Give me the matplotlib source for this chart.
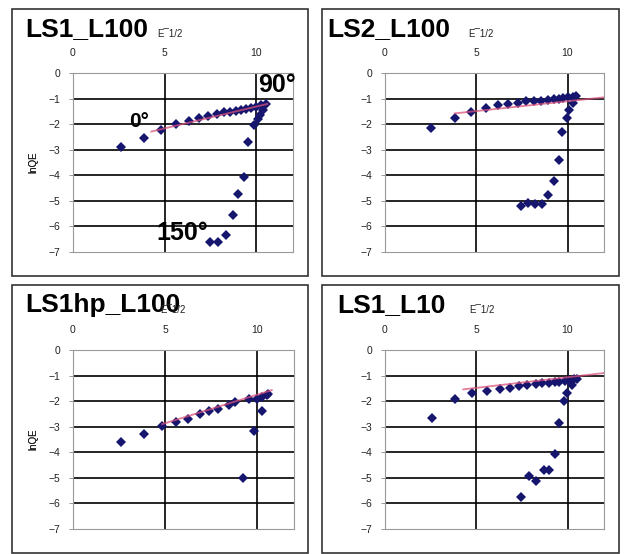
import matplotlib
matplotlib.use("Agg")
import matplotlib.pyplot as plt
from matplotlib.patches import Rectangle

plt.rcParams['font.family'] = ['Liberation Sans', 'DejaVu Sans']

W, H = 624, 554

titles = ["LS1_L100", "LS2_L100", "LS1hp_L100", "LS1_L10"]
xunit = "E\u00af1/2"
ylab = "lnQE"
xticks = [0, 5, 10]
yticks = [0, -1, -2, -3, -4, -5, -6, -7]

# LS1_L100
x1 = [2.61, 3.86, 4.82, 5.6, 6.3, 6.85, 7.39, 7.84, 8.26, 8.59, 8.9, 9.17, 9.44,
      9.71, 9.98, 10.25, 10.5, 10.34, 10.2, 10.07, 9.89, 9.57, 9.35, 9.02, 8.73,
      8.35, 7.9, 7.45]
y1 = [-2.89, -2.55, -2.23, -2.01, -1.88, -1.75, -1.67, -1.6, -1.54, -1.52, -1.49,
      -1.45, -1.41, -1.37, -1.32, -1.27, -1.23, -1.45, -1.64, -1.81, -2.03, -2.69,
      -4.08, -4.73, -5.54, -6.34, -6.6, -6.6]
fit1_x = [4.27, 10.6]
fit1_y = [-2.29, -1.21]

# LS2_L100
x2 = [2.5, 3.84, 4.71, 5.56, 6.21, 6.76, 7.28, 7.75, 8.15, 8.55, 8.91, 9.24, 9.51,
      9.78, 10.05, 10.29, 10.47, 10.29, 10.1, 9.96, 9.71, 9.51, 9.24, 8.95, 8.61,
      8.21, 7.83, 7.43]
y2 = [-2.16, -1.77, -1.51, -1.38, -1.25, -1.21, -1.19, -1.08, -1.08, -1.08, -1.06,
      -1.03, -1.0, -0.98, -0.95, -0.93, -0.9, -1.16, -1.45, -1.75, -2.32, -3.4,
      -4.22, -4.77, -5.14, -5.14, -5.1, -5.2]
fit2_x = [3.82, 12.0]
fit2_y = [-1.58, -0.95]

# LS1hp_L100
x3 = [2.6, 3.83, 4.84, 5.59, 6.25, 6.88, 7.38, 7.88, 8.46, 8.82, 9.53, 9.98, 10.28,
      10.52, 10.6, 10.25, 9.82, 9.21]
y3 = [-3.6, -3.28, -2.97, -2.83, -2.69, -2.49, -2.4, -2.32, -2.16, -2.05, -1.92,
      -1.9, -1.83, -1.77, -1.74, -2.4, -3.17, -5.01]
fit3_x = [4.84, 10.79]
fit3_y = [-2.9, -1.57]

# LS1_L10
x4 = [2.58, 3.84, 4.78, 5.6, 6.29, 6.84, 7.34, 7.8, 8.26, 8.62, 8.98, 9.29, 9.56,
      9.84, 10.1, 10.34, 10.53, 10.25, 9.98, 9.8, 9.56, 9.29, 8.98, 8.69, 8.29,
      7.87, 7.47]
y4 = [-2.65, -1.92, -1.7, -1.61, -1.53, -1.48, -1.4, -1.38, -1.34, -1.31, -1.29,
      -1.27, -1.25, -1.22, -1.18, -1.15, -1.12, -1.38, -1.7, -2.0, -2.87, -4.06,
      -4.71, -4.71, -5.12, -4.91, -5.73]
fit4_x = [4.29, 12.0]
fit4_y = [-1.54, -0.9]

xs = [x1, x2, x3, x4]
ys = [y1, y2, y3, y4]
fxs = [fit1_x, fit2_x, fit3_x, fit4_x]
fys = [fit1_y, fit2_y, fit3_y, fit4_y]

# pixel layout: panel box, plot box, title x, unit x
panels = [((12, 9, 308, 276), (73, 73, 293, 252), 25, 157),
          ((322, 9, 619, 276), (385, 73, 604, 252), 327, 468),
          ((12, 285, 308, 553), (73, 350, 294, 529), 25, 160),
          ((322, 285, 619, 553), (385, 350, 604, 529), 337, 469)]


def fbox(l, t, r, b):
    return [l / W, 1 - b / H, (r - l) / W, (b - t) / H]


fig = plt.figure(figsize=(W / 100, H / 100), dpi=100)

for i in range(4):
    pb, ab, tx, sx = panels[i]
    fig.patches.append(Rectangle((pb[0] / W, 1 - pb[3] / H), (pb[2] - pb[0]) / W,
                                 (pb[3] - pb[1]) / H, transform=fig.transFigure,
                                 fill=False, edgecolor='#333333', linewidth=1.2))
    ax = fig.add_axes(fbox(*ab))
    ax.set_xlim(0, 12)
    ax.set_ylim(-7, 0)
    for v in [5, 10]:
        ax.axvline(v, color='black', linewidth=1.2, zorder=1)
    for v in yticks[1:-1]:
        ax.axhline(v, color='black', linewidth=1.2, zorder=1)
    ax.plot(xs[i], ys[i], linestyle='none', marker='D', markersize=4.8,
            color='#16166e', markeredgewidth=0, zorder=3)
    ax.plot(fxs[i], fys[i], color='#d8507a', linewidth=1.3, alpha=0.75, zorder=4)
    ax.set_xticks(xticks)
    ax.set_yticks(yticks)
    ax.xaxis.tick_top()
    ax.tick_params(axis='x', length=0, pad=11, labelsize=7.5, labelcolor='#222222')
    ax.tick_params(axis='y', length=3, width=0.6, color='#888888', pad=6,
                   labelsize=7.5, labelcolor='#222222')
    for s in ax.spines.values():
        s.set_color('#999999')
        s.set_linewidth(0.8)
    fig.text(33 / W, 1 - (ab[1] + ab[3]) / 2 / H, ylab, rotation=90, fontsize=7,
             ha='center', va='center', color='#222222')
    fig.text(tx / W, 1 - pb[1] / H - 27 / H, titles[i], fontsize=19,
             fontweight='bold', ha='left', va='baseline')
    fig.text(sx / W, 1 - pb[1] / H - 28 / H, xunit, fontsize=7,
             ha='left', va='baseline', color='#222222')
    if i == 0:
        ax.text(3.04, -1.88, "0\u00b0", fontsize=15, fontweight='bold',
                ha='left', va='center', zorder=5)
        ax.text(10.1, -0.45, "90\u00b0", fontsize=18, fontweight='bold',
                ha='left', va='center', zorder=5)
        ax.text(4.57, -6.26, "150\u00b0", fontsize=18, fontweight='bold',
                ha='left', va='center', zorder=5)

fig.savefig("out.png", dpi=100)
